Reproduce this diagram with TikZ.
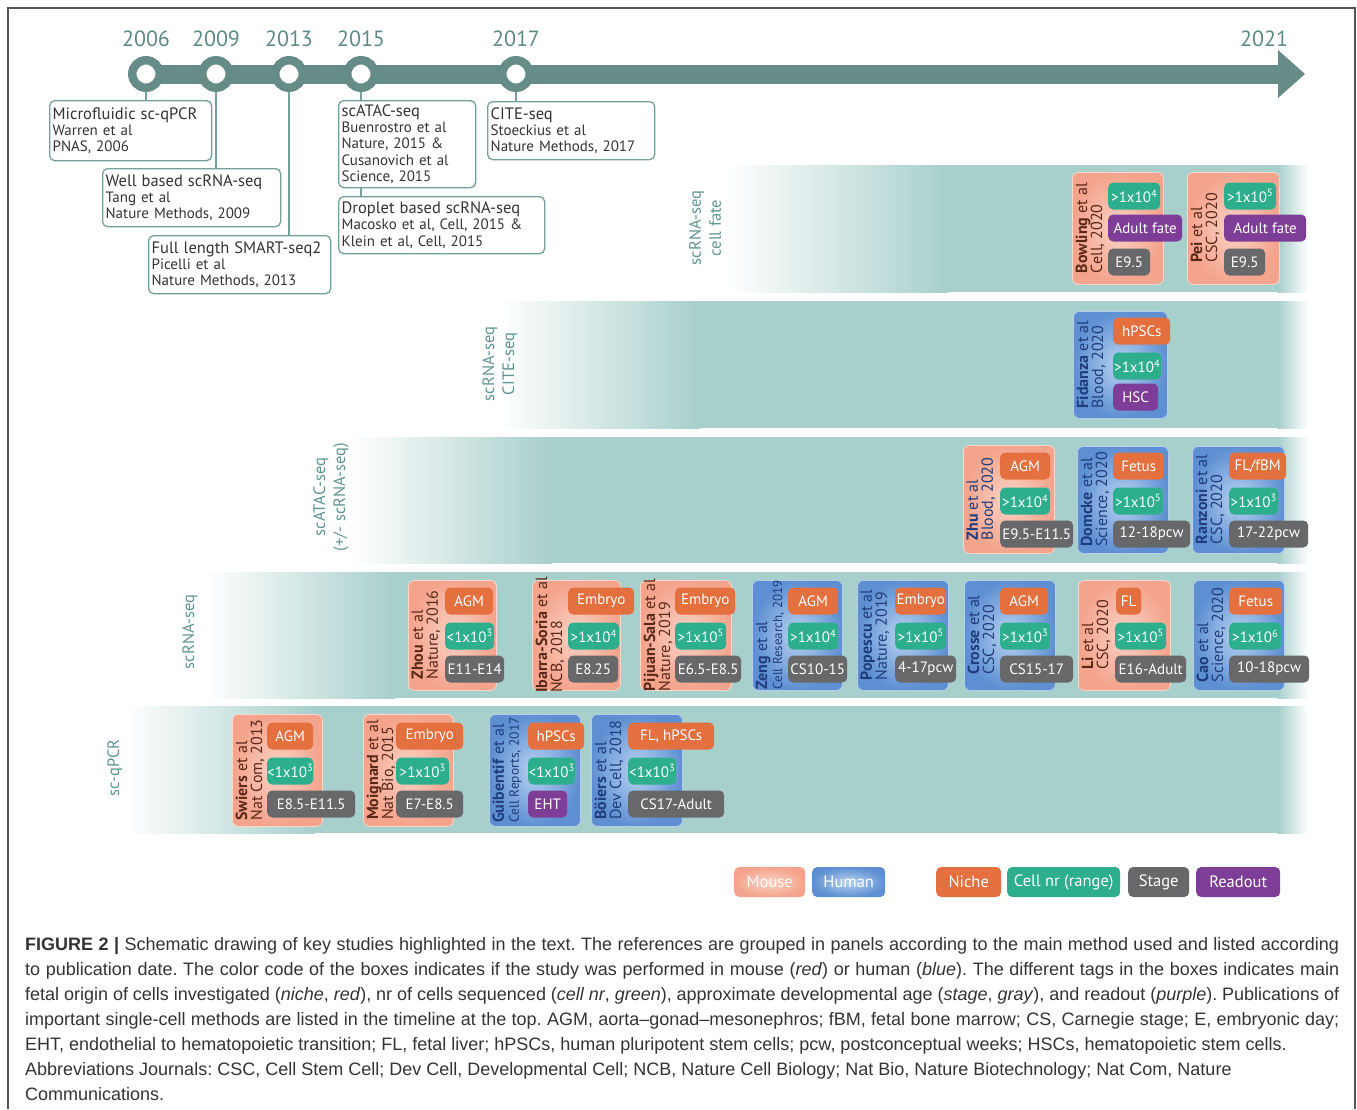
\documentclass[tikz,border=0pt]{standalone}
\usepackage{fontspec}
\setmainfont{PT Sans}
\newfontfamily\capfont{Liberation Sans}
\usetikzlibrary{calc}
\frenchspacing

\definecolor{tlteal}{HTML}{668C88}
\definecolor{yeartxt}{HTML}{5E8A86}
\definecolor{boxline}{HTML}{74A09B}
\definecolor{band}{HTML}{A7CFCB}
\definecolor{bandtxt}{HTML}{5E9490}
\definecolor{mouseedge}{HTML}{F4A38C}
\definecolor{mousemid}{HTML}{FAD3C6}
\definecolor{humanedge}{HTML}{5E8FD2}
\definecolor{humanmid}{HTML}{B8D3F1}
\definecolor{niche}{HTML}{E4703F}
\definecolor{cellnr}{HTML}{2DAE8C}
\definecolor{stagec}{HTML}{68686A}
\definecolor{readout}{HTML}{7E3E97}
\definecolor{mousetxt}{HTML}{5A2816}
\definecolor{humantxt}{HTML}{1F3D7C}
\definecolor{bodytxt}{HTML}{333333}
\definecolor{framec}{HTML}{555555}

% study panel: shaded box plus rotated reference text
\newcommand\studybox[8]{%
  \node[study=#2, minimum width={#5-#3}, minimum height={#6-#4}, anchor=north west] (#1) at (#3,#4) {};
  \node[studytxt, text=#7] (#1-ref) at ({#3+18},{(#4+#6)/2}) {#8};}
% coloured tag inside a study panel
\newcommand\tagbox[6]{%
  \node[tagnode, fill=#2, minimum width={#4-#3}, anchor=west] (#1) at (#3,#5) {#6};}
% method band with faded ends
\newcommand\methodband[4]{%
  \shade[left color=white, right color=band] (#1,#2) rectangle ({#1+#4},#3);
  \fill[band] ({#1+#4-0.5},#2) rectangle (1278,#3);
  \shade[left color=band, right color=white] (1277.5,#2) rectangle (1308,#3);}

\begin{document}
\begin{tikzpicture}[x=1pt,y=-1pt,
  year/.style={text=yeartxt, font=\fontsize{22}{22}\selectfont, inner sep=0pt},
  yearcirc/.style={circle, draw=tlteal, fill=white, line width=8.5pt, minimum size=27.5pt, inner sep=0pt},
  tlline/.style={draw=boxline, line width=1.3pt},
  tlbox/.style={draw=boxline, line width=1.3pt, rounded corners=5pt, anchor=north west,
    align=left, inner xsep=4pt, inner ysep=0pt, text=bodytxt, font=\fontsize{15}{16.2}\selectfont},
  ttl/.style={font=\fontsize{16.5}{16}\selectfont},
  study/.style={shade, inner color=#1mid, outer color=#1edge, draw=white!55!#1edge,
    line width=0.8pt, rounded corners=6pt, inner sep=0pt},
  studytxt/.style={rotate=90, align=left, inner sep=0pt, font=\fontsize{16}{15}\selectfont},
  tagnode/.style={rounded corners=5pt, minimum height=27pt, inner sep=0pt, text=white,
    font=\fontsize{15}{15}\selectfont},
  bandlabel/.style={rotate=90, align=center, text=bandtxt, inner sep=0pt,
    font=\fontsize{16.5}{20}\selectfont},
  legendnode/.style={rounded corners=5pt, minimum height=30pt, inner sep=0pt, text=white,
    font=\fontsize{16.5}{16.5}\selectfont, anchor=west},
  capline/.style={anchor=base west, inner sep=0pt, text=bodytxt,
    font=\capfont\fontsize{18}{25}\selectfont}
]
\useasboundingbox (0,0) rectangle (1357,1109);

% outer frame
\draw[framec, line width=1.3pt] (8,1109) -- (8,8) -- (1355,8) -- (1355,1109);

% ---------------- timeline ----------------
\coordinate (t0) at (146,74);
\coordinate (tlend) at (1279,74);
\draw[tlteal, line width=19pt] (t0) -- (tlend);
\fill[tlteal] (1278,50) -- (1305,74) -- (1278,98) -- cycle;

\node[yearcirc] (c2006) at (146,74) {};
\node[yearcirc] (c2009) at (216,74) {};
\node[yearcirc] (c2013) at (289,74) {};
\node[yearcirc] (c2015) at (361,74) {};
\node[yearcirc] (c2017) at (516,74) {};

\node[year] (y2006) at (146,39) {2006};
\node[year] (y2009) at (216,39) {2009};
\node[year] (y2013) at (289,39) {2013};
\node[year] (y2015) at (361,39) {2015};
\node[year] (y2017) at (516,39) {2017};
\node[year] (y2021) at (1264,39) {2021};

\node[tlbox, minimum width=162pt, minimum height=60pt, text width=156pt, inner xsep=3pt] (b1) at (49,100)
  {{\fontsize{16.5}{16}\selectfont Microfluidic sc-qPCR}\\Warren et al\\PNAS, 2006};
\node[tlbox, minimum width=178pt, minimum height=58pt, text width=172pt, inner xsep=3pt] (b2) at (102,168)
  {{\fontsize{16.5}{16}\selectfont Well based scRNA-seq}\\Tang et al\\Nature Methods, 2009};
\node[tlbox, minimum width=182pt, minimum height=58pt, text width=176pt, inner xsep=3pt] (b3) at (148,235)
  {{\fontsize{16.5}{16}\selectfont Full length SMART-seq2}\\Picelli et al\\Nature Methods, 2013};
\node[tlbox, minimum width=137pt, minimum height=87pt, text width=131pt, inner xsep=3pt] (b4) at (338,100)
  {{\fontsize{16.5}{16}\selectfont scATAC-seq}\\Buenrostro et al\\Nature, 2015 \&\\Cusanovich et al\\Science, 2015};
\node[tlbox, minimum width=206pt, minimum height=57pt, text width=200pt, inner xsep=3pt] (b5) at (338,196)
  {{\fontsize{16.5}{16}\selectfont Droplet based scRNA-seq}\\Macosko et al, Cell, 2015 \&\\Klein et al, Cell, 2015};
\node[tlbox, minimum width=167pt, minimum height=58pt, text width=161pt, inner xsep=3pt] (b6) at (487,101)
  {{\fontsize{16.5}{16}\selectfont CITE-seq}\\Stoeckius et al\\Nature Methods, 2017};

\draw[tlline] (c2006.south) -- (c2006.south |- b1.north);
\draw[tlline] (c2009.south) -- (c2009.south |- b2.north);
\draw[tlline] (c2013.south) -- (c2013.south |- b3.north);
\draw[tlline] (c2015.south) -- (c2015.south |- b4.north);
\draw[tlline] (b4.south -| c2015) -- (b5.north -| c2015);
\draw[tlline] (c2017.south) -- (c2017.south |- b6.north);

% ---------------- method bands ----------------
\methodband{728}{165}{292}{220}
\methodband{500}{301}{428}{200}
\methodband{352}{437}{563}{200}
\methodband{205}{572}{698}{190}
\methodband{125}{706}{833}{190}

\node[bandlabel] (lab-fate) at (705,228) {scRNA-seq\\cell fate};
\node[bandlabel] (lab-cite) at (500,364) {scRNA-seq\\CITE-seq};
\node[bandlabel] (lab-atac) at (331,497) {scATAC-seq\\(+/- scRNA-seq)};
\node[bandlabel] (lab-rna) at (190,632) {scRNA-seq};
\node[bandlabel] (lab-qpcr) at (115,768) {sc-qPCR};

% ---------------- scRNA-seq cell fate ----------------
\studybox{bowling}{mouse}{1072}{172}{1163}{284}{mousetxt}{\textbf{Bowling} et al\\Cell, 2020}
\tagbox{bowling-n}{cellnr}{1108}{1160}{196}{>1x10\textsuperscript{4}}
\tagbox{bowling-r}{readout}{1108}{1182}{228}{Adult fate}
\tagbox{bowling-s}{stagec}{1108}{1150}{262}{E9.5}
\studybox{pei}{mouse}{1187}{172}{1279}{284}{mousetxt}{\textbf{Pei} et al\\CSC, 2020}
\tagbox{pei-n}{cellnr}{1224}{1276}{196}{>1x10\textsuperscript{5}}
\tagbox{pei-r}{readout}{1224}{1306}{228}{Adult fate}
\tagbox{pei-s}{stagec}{1224}{1265}{262}{E9.5}

% ---------------- scRNA-seq CITE-seq ----------------
\studybox{fidanza}{human}{1073}{311}{1167}{418}{humantxt}{\textbf{Fidanza} et al\\Blood, 2020}
\tagbox{fidanza-o}{niche}{1113}{1170}{331}{hPSCs}
\tagbox{fidanza-n}{cellnr}{1113}{1161}{366}{>1x10\textsuperscript{4}}
\tagbox{fidanza-r}{readout}{1113}{1158}{397}{HSC}

% ---------------- scATAC-seq ----------------
\studybox{zhu}{mouse}{963}{445}{1054}{553}{humantxt}{\textbf{Zhu} et al\\Blood, 2020}
\tagbox{zhu-o}{niche}{1000}{1050}{466}{AGM}
\tagbox{zhu-n}{cellnr}{1000}{1050}{501}{>1x10\textsuperscript{4}}
\tagbox{zhu-s}{stagec}{1000}{1073}{534}{E9.5-E11.5}
\studybox{domcke}{human}{1077}{446}{1168}{553}{humantxt}{\textbf{Domcke} et al\\Science, 2020}
\tagbox{domcke-o}{niche}{1113}{1164}{466}{Fetus}
\tagbox{domcke-n}{cellnr}{1113}{1163}{501}{>1x10\textsuperscript{5}}
\tagbox{domcke-s}{stagec}{1113}{1190}{534}{12-18pcw}
\studybox{ranzoni}{human}{1192}{446}{1284}{553}{humantxt}{\textbf{Ranzoni} et al\\CSC, 2020}
\tagbox{ranzoni-o}{niche}{1229}{1286}{466}{FL/fBM}
\tagbox{ranzoni-n}{cellnr}{1229}{1278}{501}{>1x10\textsuperscript{3}}
\tagbox{ranzoni-s}{stagec}{1229}{1308}{534}{17-22pcw}

% ---------------- scRNA-seq ----------------
\studybox{zhou}{mouse}{408}{580}{496}{690}{mousetxt}{\textbf{Zhou} et al\\Nature, 2016}
\tagbox{zhou-o}{niche}{445}{493}{601}{AGM}
\tagbox{zhou-n}{cellnr}{445}{494}{636}{<1x10\textsuperscript{3}}
\tagbox{zhou-s}{stagec}{445}{504}{669}{E11-E14}
\studybox{ibarra}{mouse}{532}{580}{620}{690}{mousetxt}{\textbf{Ibarra-Soria} et al\\NCB, 2018}
\tagbox{ibarra-o}{niche}{568}{634}{601}{Embryo}
\tagbox{ibarra-n}{cellnr}{568}{619}{636}{>1x10\textsuperscript{4}}
\tagbox{ibarra-s}{stagec}{568}{618}{669}{E8.25}
\studybox{pijuan}{mouse}{640}{580}{731}{690}{mousetxt}{\textbf{Pijuan-Sala} et al\\Nature, 2019}
\tagbox{pijuan-o}{niche}{675}{735}{601}{Embryo}
\tagbox{pijuan-n}{cellnr}{675}{726}{636}{>1x10\textsuperscript{5}}
\tagbox{pijuan-s}{stagec}{675}{741}{669}{E6.5-E8.5}
\studybox{zeng}{human}{752}{580}{842}{690}{humantxt}{\textbf{Zeng} et al\\{\fontsize{13}{15}\selectfont Cell Research, 2019}}
\tagbox{zeng-o}{niche}{788}{838}{601}{AGM}
\tagbox{zeng-n}{cellnr}{788}{838}{636}{>1x10\textsuperscript{4}}
\tagbox{zeng-s}{stagec}{788}{847}{669}{CS10-15}
\studybox{popescu}{human}{857}{580}{948}{690}{humantxt}{\textbf{Popescu} et al\\Nature, 2019}
\tagbox{popescu-o}{niche}{895}{946}{601}{Embryo}
\tagbox{popescu-n}{cellnr}{895}{946}{636}{>1x10\textsuperscript{5}}
\tagbox{popescu-s}{stagec}{895}{956}{669}{4-17pcw}
\studybox{crosse}{human}{964}{580}{1055}{690}{humantxt}{\textbf{Crosse} et al\\CSC, 2020}
\tagbox{crosse-o}{niche}{1000}{1048}{601}{AGM}
\tagbox{crosse-n}{cellnr}{1000}{1050}{636}{>1x10\textsuperscript{3}}
\tagbox{crosse-s}{stagec}{1000}{1073}{669}{CS15-17}
\studybox{li}{mouse}{1078}{580}{1170}{690}{mousetxt}{\textbf{Li} et al\\CSC, 2020}
\tagbox{li-o}{niche}{1116}{1141}{601}{FL}
\tagbox{li-n}{cellnr}{1115}{1166}{636}{>1x10\textsuperscript{5}}
\tagbox{li-s}{stagec}{1115}{1186}{669}{E16-Adult}
\studybox{cao}{human}{1193}{580}{1284}{690}{humantxt}{\textbf{Cao} et al\\Science, 2020}
\tagbox{cao-o}{niche}{1229}{1282}{601}{Fetus}
\tagbox{cao-n}{cellnr}{1229}{1281}{636}{>1x10\textsuperscript{6}}
\tagbox{cao-s}{stagec}{1229}{1309}{669}{10-18pcw}

% ---------------- sc-qPCR ----------------
\studybox{swiers}{mouse}{232}{714}{322}{826}{mousetxt}{\textbf{Swiers} et al\\Nat Com, 2013}
\tagbox{swiers-o}{niche}{267}{313}{736}{AGM}
\tagbox{swiers-n}{cellnr}{267}{313}{771}{<1x10\textsuperscript{3}}
\tagbox{swiers-s}{stagec}{267}{355}{804}{E8.5-E11.5}
\studybox{moignard}{mouse}{363}{714}{453}{826}{mousetxt}{\textbf{Moignard} et al\\Nat Bio, 2015}
\tagbox{moignard-o}{niche}{396}{463}{736}{Embryo}
\tagbox{moignard-n}{cellnr}{396}{449}{771}{>1x10\textsuperscript{3}}
\tagbox{moignard-s}{stagec}{396}{463}{804}{E7-E8.5}
\studybox{guibentif}{human}{489}{714}{580}{826}{humantxt}{\textbf{Guibentif} et al\\{\fontsize{13.5}{15}\selectfont Cell Reports, 2017}}
\tagbox{guibentif-o}{niche}{528}{584}{736}{hPSCs}
\tagbox{guibentif-n}{cellnr}{528}{575}{771}{<1x10\textsuperscript{3}}
\tagbox{guibentif-r}{readout}{528}{567}{804}{EHT}
\studybox{boiers}{human}{591}{714}{682}{826}{humantxt}{\textbf{Böiers} et al\\Dev Cell, 2018}
\tagbox{boiers-o}{niche}{628}{714}{736}{FL, hPSCs}
\tagbox{boiers-n}{cellnr}{628}{676}{771}{<1x10\textsuperscript{3}}
\tagbox{boiers-s}{stagec}{628}{724}{804}{CS17-Adult}

% ---------------- legend ----------------
\node[legendnode, shade, inner color=mousemid, outer color=mouseedge, minimum width=71pt, text=white!92!mouseedge] (lg-mouse) at (734,882) {Mouse};
\node[legendnode, shade, inner color=humanmid, outer color=humanedge, minimum width=73pt] (lg-human) at (812,882) {Human};
\node[legendnode, fill=niche, minimum width=65pt] (lg-niche) at (936,882) {Niche};
\node[legendnode, fill=cellnr, minimum width=113pt] (lg-cell) at (1007,882) {Cell nr (range)};
\node[legendnode, fill=stagec, minimum width=61pt] (lg-stage) at (1128,882) {Stage};
\node[legendnode, fill=readout, minimum width=84pt] (lg-read) at (1196,882) {Readout};

% ---------------- caption ----------------
\node[capline] (cap1) at (25,950) {\makebox[1314pt][s]{\textbf{FIGURE 2 |} Schematic drawing of key studies highlighted in the text. The references are grouped in panels according to the main method used and listed according}};
\node[capline] (cap2) at (25,975) {\makebox[1314pt][s]{to publication date. The color code of the boxes indicates if the study was performed in mouse (\textit{red}) or human (\textit{blue}). The different tags in the boxes indicates main}};
\node[capline] (cap3) at (25,1000) {\makebox[1314pt][s]{fetal origin of cells investigated (\textit{niche}, \textit{red}), nr of cells sequenced (\textit{cell nr}, \textit{green}), approximate developmental age (\textit{stage}, \textit{gray}), and readout (\textit{purple}). Publications of}};
\node[capline] (cap4) at (25,1025) {\makebox[1314pt][s]{important single-cell methods are listed in the timeline at the top. AGM, aorta–gonad–mesonephros; fBM, fetal bone marrow; CS, Carnegie stage; E, embryonic day;}};
\node[capline] (cap5) at (25,1050) {EHT, endothelial to hematopoietic transition; FL, fetal liver; hPSCs, human pluripotent stem cells; pcw, postconceptual weeks; HSCs, hematopoietic stem cells.};
\node[capline] (cap6) at (25,1075) {Abbreviations Journals: CSC, Cell Stem Cell; Dev Cell, Developmental Cell; NCB, Nature Cell Biology; Nat Bio, Nature Biotechnology; Nat Com, Nature};
\node[capline] (cap7) at (25,1100) {Communications.};
\end{tikzpicture}
\end{document}
